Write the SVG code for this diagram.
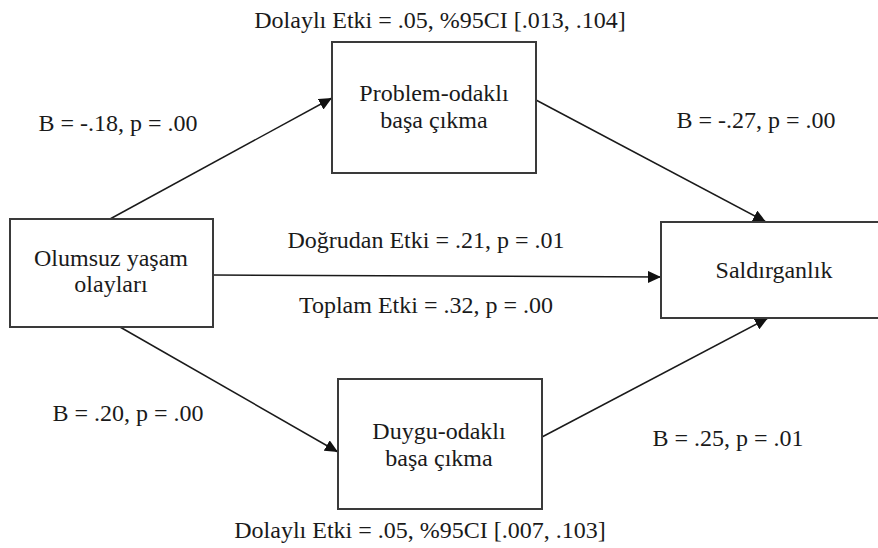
<svg xmlns="http://www.w3.org/2000/svg" width="878" height="548" viewBox="0 0 878 548">
<style>
text{font-family:"Liberation Serif","Times New Roman",serif;font-size:24px;fill:#1a1a1a}
.box{fill:#fff;stroke:#3a3a3a;stroke-width:2}
.edge{stroke:#1a1a1a;stroke-width:1.5;fill:none;marker-end:url(#arr)}
.m{text-anchor:middle}
</style>
<defs>
<marker id="arr" markerUnits="userSpaceOnUse" markerWidth="14" markerHeight="12" refX="13" refY="6" orient="auto">
<path d="M0,0 L13,6 L0,12 z" fill="#111"/>
</marker>
</defs>
<rect width="878" height="548" fill="#fff"/>
<g id="connectors">
<line class="edge" x1="110" y1="219" x2="332" y2="98"/>
<line class="edge" x1="120" y1="327" x2="338" y2="452"/>
<line class="edge" x1="536" y1="100" x2="766" y2="222"/>
<line class="edge" x1="542" y1="437" x2="768" y2="318"/>
<line class="edge" x1="213" y1="275" x2="661" y2="277"/>
</g>
<g id="olumsuz">
<rect class="box" x="10" y="219" width="203" height="108"/>
<text class="m" x="111" y="266">Olumsuz yaşam</text>
<text class="m" x="111" y="292">olayları</text>
</g>
<g id="problem">
<rect class="box" x="332" y="42" width="204" height="131"/>
<text class="m" x="434" y="101">Problem-odaklı</text>
<text class="m" x="434" y="128">başa çıkma</text>
</g>
<g id="duygu">
<rect class="box" x="338" y="379" width="204" height="130"/>
<text class="m" x="439" y="439">Duygu-odaklı</text>
<text class="m" x="439" y="466">başa çıkma</text>
</g>
<g id="saldirganlik">
<rect class="box" x="661" y="222" width="230" height="96"/>
<text class="m" x="774" y="278">Saldırganlık</text>
</g>
<g id="labels">
<text class="m" x="440" y="28">Dolaylı Etki = .05, %95CI [.013, .104]</text>
<text class="m" x="420" y="538">Dolaylı Etki = .05, %95CI [.007, .103]</text>
<text class="m" x="118" y="131">B = -.18, p = .00</text>
<text class="m" x="756" y="128">B = -.27, p = .00</text>
<text class="m" x="426" y="248">Doğrudan Etki = .21, p = .01</text>
<text class="m" x="426" y="313">Toplam Etki = .32, p = .00</text>
<text class="m" x="128" y="421">B = .20, p = .00</text>
<text class="m" x="728" y="446">B = .25, p = .01</text>
</g>
</svg>
